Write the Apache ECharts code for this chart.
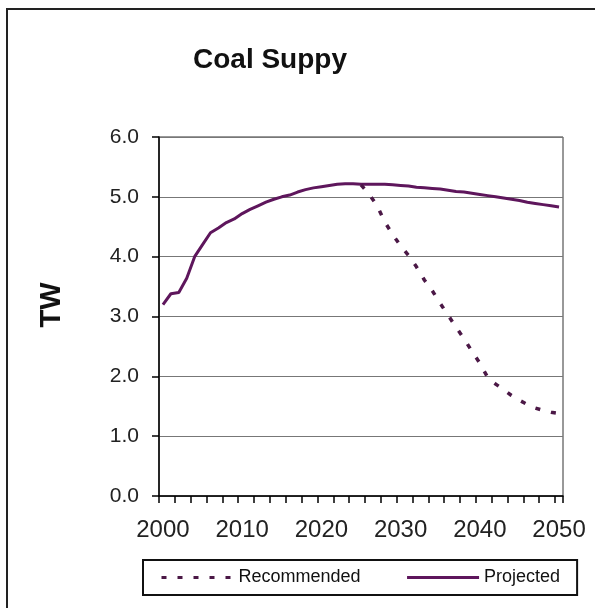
<!DOCTYPE html>
<html>
<head>
<meta charset="utf-8">
<script src="https://cdn.jsdelivr.net/npm/echarts@6/dist/echarts.min.js"></script>
<style>
  html, body { margin: 0; padding: 0; background: #fff; }
  #chart { width: 595px; height: 608px; }
</style>
</head>
<body>
<div id="chart"></div>
<script>
// Years on the category axis
const years = [];
for (let y = 2000; y <= 2050; y++) years.push(String(y));

// Projected coal supply, TW
const projected = [
  3.20, 3.38, 3.40, 3.64, 4.00, 4.20, 4.40, 4.48, 4.57, 4.63,
  4.72, 4.79, 4.85, 4.91, 4.96, 5.00, 5.03, 5.08, 5.12, 5.15,
  5.17, 5.19, 5.21, 5.22, 5.22, 5.21, 5.21, 5.21, 5.21, 5.20,
  5.19, 5.18, 5.16, 5.15, 5.14, 5.13, 5.11, 5.09, 5.08, 5.06,
  5.04, 5.02, 5.00, 4.98, 4.96, 4.94, 4.91, 4.89, 4.87, 4.85,
  4.83
];

// Recommended path, TW (starts in 2025)
const recommended = [
  null, null, null, null, null, null, null, null, null, null,
  null, null, null, null, null, null, null, null, null, null,
  null, null, null, null, null, 5.20, 5.05, 4.86, 4.58, 4.37,
  4.18, 4.02, 3.83, 3.61, 3.43, 3.22, 3.02, 2.82, 2.63, 2.42,
  2.22, 1.98, 1.87, 1.78, 1.68, 1.60, 1.53, 1.47, 1.43, 1.40,
  1.38
];

const FONT = '"Liberation Sans", Arial, sans-serif';

const chart = echarts.init(document.getElementById('chart'), null, { renderer: 'canvas' });
chart.setOption({
  backgroundColor: '#fff',
  animation: false,
  title: {
    text: 'Coal Suppy',
    left: 265,
    top: 41,
    textAlign: 'center',
    textStyle: { fontFamily: FONT, fontSize: 28, fontWeight: 'bold', color: '#111' }
  },
  grid: {
    left: 159, right: 32, top: 137, bottom: 112,
    show: true, borderColor: '#333', borderWidth: 1, backgroundColor: 'transparent'
  },
  legend: {
    data: ['Recommended', 'Projected'],
    left: 143, top: 560,
    orient: 'horizontal',
    padding: [8, 17, 8, 17],
    itemWidth: 72, itemHeight: 2, itemGap: 45,
    itemStyle: { opacity: 0 },
    lineStyle: { width: 3 },
    borderColor: '#111', borderWidth: 2,
    textStyle: { fontFamily: FONT, fontSize: 18, color: '#111', lineHeight: 19 }
  },
  xAxis: {
    type: 'category',
    data: years,
    boundaryGap: true,
    axisLine: { lineStyle: { color: '#000', width: 1.5 } },
    axisTick: { show: true, interval: 1, length: 7, inside: false, lineStyle: { color: '#000', width: 1.5 } },
    axisLabel: { interval: 9, margin: 22, fontFamily: FONT, fontSize: 24, color: '#222' },
    splitLine: { show: false }
  },
  yAxis: {
    type: 'value',
    min: 0, max: 6, interval: 1,
    axisLine: { show: true, lineStyle: { color: '#000', width: 1.5 } },
    axisTick: { show: true, length: 7, lineStyle: { color: '#000', width: 1.5 } },
    axisLabel: {
      margin: 20, fontFamily: FONT, fontSize: 21, color: '#222',
      formatter: v => v.toFixed(1)
    },
    splitLine: { show: true, lineStyle: { color: '#777', width: 1 } }
  },
  series: [
    {
      name: 'Recommended',
      type: 'line',
      data: recommended,
      symbol: 'none',
      connectNulls: false,
      itemStyle: { color: '#4b1846' },
      lineStyle: { color: '#4b1846', width: 3.5, type: [5, 11] },
      z: 3
    },
    {
      name: 'Projected',
      type: 'line',
      data: projected,
      symbol: 'none',
      itemStyle: { color: '#5e165c' },
      lineStyle: { color: '#5e165c', width: 3 },
      z: 2
    }
  ],
  graphic: [
    {
      type: 'rect',
      shape: { x: 7, y: 9, width: 620, height: 620 },
      style: { fill: 'none', stroke: '#222', lineWidth: 2 },
      silent: true, z: -1
    },
    {
      type: 'text',
      x: 52, y: 305,
      rotation: Math.PI / 2,
      style: {
        text: 'TW',
        fontFamily: FONT, fontSize: 29, fontWeight: 'bold', fill: '#111',
        textAlign: 'center', textVerticalAlign: 'middle'
      },
      silent: true
    }
  ]
});
</script>
</body>
</html>
